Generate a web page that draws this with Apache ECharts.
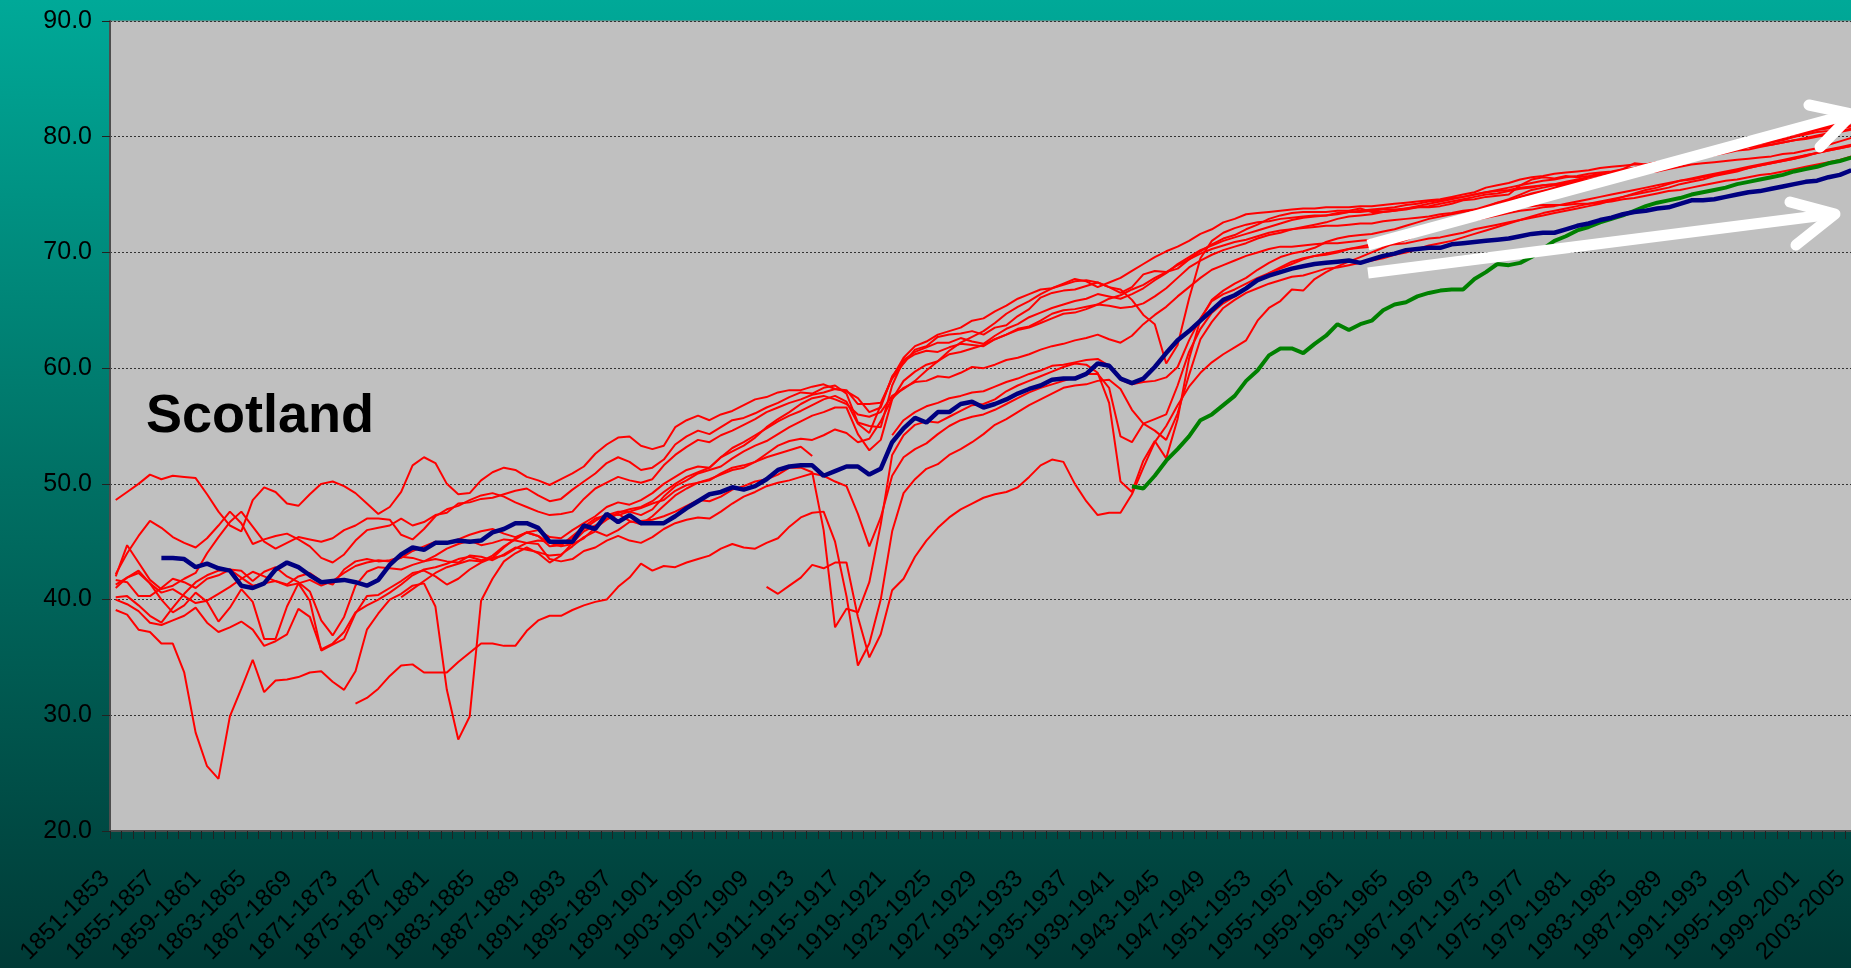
<!DOCTYPE html>
<html>
<head>
<meta charset="utf-8">
<title>Scotland life expectancy</title>
<script src="https://cdn.jsdelivr.net/npm/echarts@6/dist/echarts.min.js"></script>
<style>
  html, body { margin: 0; padding: 0; }
  #chart { width: 1851px; height: 968px; }
</style>
</head>
<body>
<div id="chart"></div>
<script>
  // three-year periods 1851-1853 ... 2003-2005
  const firstYear = 1851
  const periodCount = 153
  const categories = []
  for (let y = firstYear; y < firstYear + periodCount; y++) {
    categories.push(y + '-' + (y + 2))
  }

  const yTicks = [20, 30, 40, 50, 60, 70, 80, 90]

  // Scotland (blue), from 1855-1857
  const scotlandStart = 4
  const scotland = [
    43.6, 43.6, 43.5, 42.8, 43.1, 42.7,
    42.5, 41.2, 41.0, 41.4, 42.6, 43.2, 42.8, 42.1, 41.5, 41.6,
    41.7, 41.5, 41.2, 41.7, 43.0, 43.9, 44.5, 44.3, 44.9, 44.9,
    45.1, 45.0, 45.1, 45.8, 46.1, 46.6, 46.6, 46.2, 45.0, 45.0,
    45.0, 46.4, 46.1, 47.4, 46.7, 47.3, 46.6, 46.6, 46.6, 47.2,
    47.9, 48.5, 49.1, 49.3, 49.7, 49.5, 49.8, 50.4, 51.2, 51.5,
    51.6, 51.6, 50.7, 51.1, 51.5, 51.5, 50.8, 51.3, 53.6, 54.8,
    55.7, 55.3, 56.2, 56.2, 56.9, 57.1, 56.6, 56.9, 57.3, 57.8,
    58.2, 58.5, 59.0, 59.1, 59.1, 59.5, 60.4, 60.2, 59.1, 58.7,
    59.1, 60.1, 61.3, 62.4, 63.2, 64.1, 65.0, 65.9, 66.3, 66.9,
    67.6, 68.0, 68.3, 68.6, 68.8, 69.0, 69.1, 69.2, 69.3, 69.1,
    69.4, 69.7, 69.9, 70.2, 70.3, 70.4, 70.4, 70.7, 70.8, 70.9,
    71.0, 71.1, 71.2, 71.4, 71.6, 71.7, 71.7, 72.0, 72.3, 72.5,
    72.8, 73.0, 73.3, 73.5, 73.6, 73.8, 73.9, 74.2, 74.5, 74.5,
    74.6, 74.8, 75.0, 75.2, 75.3, 75.5, 75.7, 75.9, 76.1, 76.2, 76.5, 76.7, 77.1
  ]

  // highlighted comparator (green), from 1940-1942
  const greenStart = 89
  const greenLine = [
    49.8,
    49.6, 50.7, 52.0, 53.0, 54.1, 55.5, 56.0, 56.8, 57.6, 58.9,
    59.8, 61.1, 61.7, 61.7, 61.3, 62.1, 62.8, 63.8, 63.3, 63.8,
    64.1, 65.0, 65.5, 65.7, 66.2, 66.5, 66.7, 66.8, 66.8, 67.7,
    68.3, 69.0, 68.9, 69.1, 69.6, 70.3, 71.0, 71.4, 71.9, 72.2,
    72.6, 72.9, 73.2, 73.6, 74.0, 74.3, 74.5, 74.7, 75.0, 75.2,
    75.4, 75.6, 75.9, 76.1, 76.3, 76.5, 76.7, 77.0, 77.2, 77.4, 77.7, 77.9, 78.2
  ]

  // other countries (red)
  const redA = [
    48.6, 49.3, 50.0, 50.8, 50.4, 50.7, 50.6, 50.5, 49.1, 47.6,
    46.4, 45.9, 48.6, 49.7, 49.3, 48.3, 48.1, 49.1, 50.0, 50.2,
    49.8, 49.2, 48.3, 47.4, 48.0, 49.3, 51.6, 52.3, 51.8, 50.0,
    49.1, 49.2, 50.3, 51.0, 51.4, 51.2, 50.6, 50.3, 49.9, 50.4,
    50.9, 51.5, 52.6, 53.4, 54.0, 54.1, 53.3, 53.0, 53.3, 54.9,
    55.5, 55.9, 55.5, 56.0, 56.3, 56.8, 57.3, 57.5, 57.9, 58.1,
    58.1, 58.4, 58.6, 58.2, 58.1, 56.9, 56.9, 57.0, 59.1, 60.4,
    61.6, 61.9, 62.7, 62.9, 63.0, 63.2, 62.9, 63.5, 63.7, 64.5,
    65.1, 66.1, 66.5, 66.7, 66.8, 67.1, 67.4, 67.0, 66.5, 67.0,
    68.1, 68.4, 68.3, 68.6, 69.4, 70.1, 70.7, 71.2, 71.5, 72.0,
    72.4, 72.9, 73.2, 73.4, 73.5, 73.5, 73.5, 73.6, 73.6, 73.8,
    73.5, 73.5, 73.6, 73.7, 73.9, 73.9, 74.0, 74.2, 74.5, 74.6,
    74.8, 74.9, 75.0, 75.8, 76.3, 76.5, 76.4, 76.6, 76.5, 76.6,
    76.8, 76.9, 77.2, 77.7, 77.6, 77.5, 77.7, 77.9, 78.2, 78.4,
    78.5, 78.7, 78.9, 79.1, 79.2, 79.5, 79.7, 80.0, 80.3, 80.6, 80.8, 81.0, 81.3
  ]
  const redB = [
    42.2, 44.0, 45.5, 46.8, 46.2, 45.4, 44.9, 44.5, 45.3, 46.4,
    47.6, 46.6, 44.8, 45.2, 45.5, 45.7, 45.2, 44.6, 43.6, 43.2,
    43.9, 45.1, 46.0, 46.2, 46.4, 47.0, 46.4, 46.7, 47.3, 47.5,
    48.3, 48.4, 48.7, 48.8, 49.1, 49.4, 49.6, 49.0, 48.5, 48.7,
    49.5, 50.2, 50.9, 51.8, 52.3, 51.9, 51.2, 51.4, 52.1, 53.4,
    54.1, 54.6, 54.3, 54.9, 55.5, 55.7, 56.1, 56.6, 57.0, 57.5,
    57.9, 57.8, 58.3, 58.5, 57.8, 55.3, 55.0, 54.9, 58.5, 60.7,
    61.4, 61.8, 62.2, 62.2, 62.6, 62.3, 62.1, 62.8, 63.4, 63.8,
    64.4, 64.8, 65.2, 65.5, 65.8, 66.0, 66.4, 66.2, 66.0, 66.4,
    66.9, 67.6, 68.2, 69.0, 69.6, 70.2, 70.6, 71.0, 71.3, 71.6,
    71.9, 72.2, 72.5, 72.8, 73.0, 73.1, 73.2, 73.3, 73.5, 73.6,
    73.7, 73.8, 73.9, 74.1, 74.2, 74.4, 74.5, 74.7, 74.8, 75.0,
    75.2, 75.3, 75.4, 75.6, 75.7, 75.8, 75.9, 76.1, 76.3, 76.5,
    76.7, 76.9, 77.0, 77.2, 77.3, 77.5, 77.7, 77.9, 78.1, 78.3,
    78.5, 78.7, 78.9, 79.1, 79.2, 79.3, 79.5, 79.7, 79.9, 80.1, 80.3, 80.5, 80.7
  ]
  const redC = [
    42.0, 44.7, 43.2, 41.7, 40.9, 41.2, 41.8, 42.3, 44.0, 45.4,
    46.7, 47.6, 46.3, 45.0, 44.4, 44.9, 45.4, 45.2, 45.0, 45.3,
    46.0, 46.4, 47.0, 47.0, 46.9, 45.6, 45.2, 46.1, 47.2, 47.8,
    48.1, 48.6, 49.0, 49.2, 48.9, 48.4, 48.0, 47.6, 47.3, 47.4,
    47.6, 48.7, 49.6, 50.1, 50.6, 50.3, 50.1, 50.4, 51.6, 52.5,
    53.2, 53.8, 53.6, 54.2, 54.6, 55.1, 55.6, 56.2, 56.6, 57.0,
    57.3, 57.7, 57.9, 58.2, 58.0, 57.4, 56.2, 56.6, 59.3, 60.6,
    61.2, 61.5, 61.4, 61.8, 62.1, 62.0, 61.9, 62.5, 62.9, 63.4,
    63.6, 64.1, 64.7, 65.0, 65.1, 65.3, 65.5, 65.4, 65.2, 65.3,
    65.6, 66.2, 66.9, 67.8, 68.7, 69.3, 69.8, 70.2, 70.5, 70.8,
    71.2, 71.5, 71.7, 72.0, 72.1, 72.2, 72.3, 72.3, 72.4, 72.5,
    72.5, 72.7, 72.8, 72.9, 73.0, 73.1, 73.3, 73.4, 73.6, 73.7,
    73.8, 73.8, 73.9, 74.0, 74.0, 74.1, 74.1, 74.1, 74.2, 74.2,
    74.3, 74.4, 74.6, 74.7, 74.9, 75.1, 75.3, 75.4, 75.6, 75.8,
    76.0, 76.2, 76.3, 76.5, 76.7, 76.8, 77.0, 77.2, 77.4, 77.6, 77.8, 78.0, 78.3
  ]
  const redD = [
    41.7, 41.5, 40.3, 40.3, 41.0, 41.8, 41.5, 41.0, 41.8, 42.1,
    42.6, 41.9, 41.2, 41.4, 41.6, 41.2, 41.4, 41.7, 41.2, 41.6,
    42.3, 42.9, 43.2, 43.4, 43.3, 43.6, 44.2, 44.6, 45.0, 44.9,
    45.2, 45.6, 45.9, 46.1, 45.7, 45.4, 45.8, 45.5, 44.9, 44.6,
    44.8, 45.3, 46.2, 46.9, 47.4, 46.8, 46.5, 47.2, 48.1, 49.0,
    49.6, 50.1, 50.4, 50.8, 51.2, 51.4, 51.9, 52.6, 53.3, 53.7,
    53.9, 53.8, 54.2, 54.7, 54.4, 53.6, 53.9, 55.4, 57.4, 58.3,
    58.8, 58.9, 59.3, 59.2, 59.6, 60.1, 60.0, 60.3, 60.7, 60.9,
    61.2, 61.6, 61.9, 62.1, 62.4, 62.6, 62.9, 62.5, 62.2, 62.8,
    63.8, 64.6, 65.3, 66.2, 67.0, 67.8, 68.5, 68.9, 69.3, 69.7,
    70.0, 70.3, 70.5, 70.5, 70.6, 70.7, 70.8, 70.8, 70.9, 71.0,
    71.1, 71.3, 71.4, 71.6, 71.8, 72.0, 72.2, 72.4, 72.6, 72.8,
    73.0, 73.2, 73.4, 73.6, 73.7, 73.9, 74.0, 74.2, 74.4, 74.6,
    74.8, 75.0, 75.2, 75.4, 75.6, 75.8, 76.0, 76.2, 76.3, 76.5,
    76.7, 76.9, 77.1, 77.3, 77.5, 77.7, 77.9, 78.1, 78.4, 78.6, 78.8, 79.0, 79.2
  ]
  const redE = [
    40.0, 39.6, 39.0, 38.0, 37.8, 38.2, 38.6, 39.3, 38.0, 37.2,
    37.6, 38.1, 37.4, 36.0, 36.4, 37.0, 39.2, 38.5, 35.7, 36.2,
    37.2, 38.9, 39.5, 40.0, 40.6, 41.3, 42.1, 42.6, 42.8, 43.1,
    43.5, 43.7, 43.4, 43.6, 44.5, 45.3, 45.8, 46.0, 45.4, 45.3,
    46.0, 46.6, 47.2, 48.0, 48.4, 48.2, 48.6, 49.2, 50.0, 50.6,
    51.2, 51.5, 51.4, 52.3, 53.1, 53.6, 54.2, 54.8, 55.4, 55.9,
    56.3, 56.8, 57.3, 57.6, 57.1, 55.2, 54.4, 56.8, 59.2, 60.9,
    61.9, 62.3, 62.9, 63.2, 63.5, 64.1, 64.3, 64.9, 65.4, 66.0,
    66.4, 66.8, 66.9, 67.2, 67.5, 67.6, 67.4, 67.0, 66.8, 65.9,
    64.6, 63.8, 60.4, 62.0, 66.0, 69.5, 71.0, 71.7, 72.1, 72.4,
    72.6, 72.7, 72.9, 73.0, 73.1, 73.2, 73.2, 73.4, 73.5, 73.5,
    73.6, 73.7, 73.7, 73.8, 73.9, 74.0, 74.2, 74.4, 74.6, 74.8,
    75.0, 75.1, 75.3, 75.5, 75.6, 75.8, 75.9, 76.0, 76.1, 76.2,
    76.4, 76.6, 76.7, 76.8, 76.9, 77.0, 77.2, 77.4, 77.6, 77.7,
    77.8, 77.9, 78.0, 78.1, 78.2, 78.3, 78.5, 78.6, 78.8, 79.0, 79.3, 79.6, 79.9
  ]
  const redF = [
    40.2, 40.3, 39.5, 38.6, 38.0, 39.3, 40.5, 41.5, 42.1, 42.5,
    42.6, 42.5, 41.6, 42.4, 42.8, 42.0, 41.5, 40.7, 38.2, 36.9,
    38.5, 41.2, 42.4, 42.8, 42.7, 42.6, 43.0, 43.3, 43.5, 43.3,
    43.2, 43.8, 43.7, 43.4, 43.9, 44.5, 44.3, 44.1, 43.8, 43.9,
    44.6, 45.4, 45.9, 45.5, 46.0, 46.7, 46.8, 46.9, 47.2, 47.6,
    48.1, 48.6, 48.5, 48.9, 49.5, 49.8, 50.2, 50.4, 50.8, 51.4,
    51.4, 51.0, 46.0, 37.6, 39.2, 38.9, 41.5, 46.5, 52.5, 54.2,
    55.1, 55.4, 55.3, 55.8, 56.3, 56.8, 56.9, 57.3, 58.0, 58.5,
    58.9, 59.3, 59.7, 60.1, 60.4, 60.3, 59.6, 57.0, 50.2, 49.3,
    52.0, 53.7, 52.2, 55.6, 60.8, 64.2, 65.9, 66.7, 67.3, 67.8,
    68.5, 69.1, 69.6, 69.9, 70.1, 70.4, 70.9, 71.2, 71.4, 71.5,
    71.6, 71.8, 72.0, 72.3, 72.6, 72.9, 73.1, 73.3, 73.5, 73.7,
    74.0, 74.3, 74.5, 74.8, 75.0, 75.3, 75.6, 75.9, 76.2, 76.5,
    76.7, 76.9, 77.1, 77.3, 77.6, 77.8, 78.0, 78.2, 78.4, 78.6,
    78.8, 79.0, 79.2, 79.4, 79.6, 79.8, 80.0, 80.2, 80.4, 80.6, 80.7, 80.8, 81.0
  ]
  // no data for 1913-1919 periods
  const redG = [
    41.0, 41.9, 42.5, 41.4, 40.6, 40.9, 40.3, 39.7, 39.9, 40.5,
    41.1, 41.8, 42.4, 42.0, 41.6, 41.3, 42.0, 42.3, 41.6, 41.3,
    42.6, 43.3, 43.5, 43.3, 43.4, 43.7, 43.6, 43.3, 43.8, 44.4,
    44.8, 45.1, 44.7, 44.9, 45.2, 45.1, 44.9, 45.1, 45.0, 44.7,
    45.4, 46.1, 46.8, 47.4, 47.3, 47.6, 47.9, 48.3, 48.6, 49.4,
    49.9, 50.1, 50.3, 50.9, 51.4, 51.6, 51.9, 52.3, 52.6, 52.9,
    53.2, 52.4, null, null, null, null, null, null, 54.2, 55.5,
    56.2, 56.7, 57.0, 57.4, 57.6, 57.9, 58.0, 58.4, 58.8, 59.1,
    59.5, 59.8, 60.2, 60.3, 60.5, 60.7, 60.8, 60.2, 59.0, 58.6,
    58.8, 58.9, 59.2, 60.1, 62.4, 64.3, 65.8, 66.4, 66.8, 67.3,
    67.8, 68.2, 68.6, 69.0, 69.4, 69.7, 69.9, 70.1, 70.3, 70.4,
    70.5, 70.6, 70.7, 70.8, 71.0, 71.2, 71.3, 71.5, 71.7, 72.0,
    72.2, 72.4, 72.6, 72.8, 73.0, 73.2, 73.4, 73.6, 73.8, 74.0,
    74.2, 74.5, 74.8, 75.1, 75.4, 75.6, 75.9, 76.2, 76.4, 76.6,
    76.8, 77.0, 77.2, 77.4, 77.6, 77.8, 78.0, 78.2, 78.4, 78.6, 78.8, 79.0, 79.2
  ]
  const redH = [
    39.1, 38.7, 37.4, 37.2, 36.2, 36.2, 33.7, 28.5, 25.6, 24.5,
    29.9, 32.3, 34.8, 32.0, 33.0, 33.1, 33.3, 33.7, 33.8, 32.9,
    32.2, 33.8, 37.4, 38.8, 40.0, 40.5, 41.2, 41.4, 39.4, 32.2,
    27.9, 29.9, 39.9, 41.8, 43.3, 44.0, 44.5, 44.0, 43.2, 43.8,
    44.9, 45.9, 46.4, 47.0, 47.5, 47.8, 48.0, 48.5, 49.3, 50.0,
    50.6, 51.0, 51.4, 52.3, 52.8, 53.3, 54.0, 54.9, 55.6, 56.2,
    56.9, 57.4, 57.6, 57.3, 56.9, 56.0, 55.8, 56.2, 57.6, 58.2,
    58.9, 59.8, 60.6, 61.5, 62.2, 62.7, 63.2, 63.9, 64.7, 65.3,
    65.8, 66.4, 66.9, 67.3, 67.7, 67.5, 67.0, 67.4, 67.8, 68.4,
    69.0, 69.6, 70.1, 70.5, 71.0, 71.6, 72.0, 72.6, 72.9, 73.3,
    73.4, 73.5, 73.6, 73.7, 73.8, 73.8, 73.9, 73.9, 73.9, 74.0,
    74.0, 74.1, 74.2, 74.3, 74.4, 74.5, 74.6, 74.8, 75.0, 75.2,
    75.6, 75.8, 76.0, 76.3, 76.5, 76.6, 76.8, 76.9, 77.0, 77.1,
    77.3, 77.4, 77.5, 77.6, 77.6, 77.8, 77.9, 78.1, 78.4, 78.6,
    78.8, 79.0, 79.3, 79.5, 79.7, 79.9, 80.2, 80.4, 80.6, 80.8, 81.0, 81.1, 81.3
  ]
  const redI = [
    41.3, 41.9, 42.3, 41.4, 40.0, 38.9, 39.5, 40.6, 39.8, 38.1,
    39.3, 40.9, 39.8, 36.6, 36.6, 39.4, 41.4, 39.9, 35.6, 36.1,
    36.6, 38.8, 40.3, 40.4, 41.0, 41.6, 42.3, 42.5, 42.0, 41.3,
    41.8, 42.6, 43.2, 43.6, 43.8, 44.4, 44.9, 44.8, 43.5, 43.3,
    43.5, 44.2, 44.5, 45.1, 45.5, 45.1, 44.9, 45.4, 46.1, 46.6,
    46.9, 47.1, 47.0, 47.6, 48.3, 48.9, 49.3, 49.8, 50.1, 50.3,
    50.6, 50.9, 50.7, 50.2, 49.8, 47.4, 44.6, 47.1, 50.7, 52.3,
    53.0, 53.5, 54.3, 55.0, 55.5, 55.8, 56.0, 56.4, 56.9, 57.4,
    57.9, 58.3, 58.6, 58.9, 59.2, 59.5, 59.5, 58.3, 54.1, 53.6,
    55.2, 54.6, 53.8, 56.1, 59.4, 62.5, 64.0, 65.2, 65.9, 66.5,
    66.9, 67.3, 67.6, 67.9, 68.0, 68.3, 68.6, 68.7, 68.9, 69.1,
    69.3, 69.5, 69.8, 70.0, 70.3, 70.6, 70.8, 71.0, 71.3, 71.6,
    71.9, 72.2, 72.5, 72.8, 73.1, 73.4, 73.6, 73.8, 74.0, 74.2,
    74.4, 74.6, 74.8, 75.0, 75.2, 75.4, 75.6, 75.9, 76.1, 76.3,
    76.6, 76.8, 77.0, 77.3, 77.5, 77.7, 77.9, 78.1, 78.3, 78.6, 78.9, 79.1, 79.3
  ]
  // from 1872-1874
  const redJStart = 21
  const redJ = [
    31.0, 31.5, 32.3, 33.4, 34.3, 34.4, 33.7, 33.7, 33.7,
    34.6, 35.4, 36.2, 36.2, 36.0, 36.0, 37.3, 38.2, 38.6, 38.6,
    39.1, 39.5, 39.8, 40.0, 41.1, 41.9, 43.1, 42.5, 42.9, 42.8,
    43.2, 43.5, 43.8, 44.4, 44.8, 44.5, 44.4, 44.9, 45.3, 46.3,
    47.1, 47.5, 47.6, 45.0, 40.3, 34.3, 36.2, 40.0, 45.9, 49.2,
    50.4, 51.3, 51.7, 52.5, 53.0, 53.6, 54.3, 55.1, 55.6, 56.2,
    56.8, 57.3, 57.8, 58.3, 58.5, 58.6, 58.9, 59.0, 58.2, 56.4,
    55.2, 55.6, 56.0, 58.5, 61.4, 63.4, 64.8, 65.6, 66.2, 66.9,
    67.6, 68.2, 68.7, 69.2, 69.5, 69.7, 69.8, 70.0, 70.3, 70.5,
    70.7, 70.9, 71.0, 71.3, 71.6, 71.9, 72.3, 72.7, 73.1, 73.5,
    73.8, 74.1, 74.4, 74.8, 75.1, 75.3, 75.5, 75.8, 76.0, 76.2,
    76.4, 76.6, 76.8, 77.0, 77.2, 77.5, 77.7, 78.0, 78.2, 78.4,
    78.6, 78.8, 79.0, 79.2, 79.4, 79.6, 79.8, 80.0, 80.2, 80.4, 80.5, 80.7, 80.9
  ]
  // from 1876-1878
  const redKStart = 25
  const redK = [
    40.2, 40.9, 41.6, 42.3, 42.8,
    43.1, 43.4, 43.3, 43.8, 44.6, 45.2, 45.8, 45.5, 44.6, 44.7,
    45.5, 46.3, 47.0, 47.3, 47.6, 47.6, 47.3, 47.8, 48.9, 49.8,
    50.3, 50.9, 51.2, 51.5, 52.2, 52.8, 53.3, 53.7, 54.3, 54.9,
    55.4, 55.9, 56.2, 56.6, 56.6, 54.3, 52.9, 53.8, 57.3, 58.9,
    59.7, 60.3, 60.6, 61.2, 61.4, 61.7, 62.0, 62.5, 62.9, 63.3,
    63.5, 63.9, 64.3, 64.7, 64.8, 65.1, 65.5, 66.0, 66.3, 66.8,
    67.2, 67.8, 68.3, 68.9, 69.4, 69.9, 70.3, 70.6, 70.9, 71.1,
    71.4, 71.7, 71.9, 72.0, 72.2, 72.4, 72.6, 72.9, 73.1, 73.2,
    73.3, 73.5, 73.6, 73.8, 74.0, 74.2, 74.4, 74.6, 74.8, 75.0,
    75.2, 75.4, 75.6, 75.8, 76.0, 76.2, 76.3, 76.5, 76.6, 76.8,
    76.9, 77.0, 77.2, 77.3, 77.5, 77.7, 77.9, 78.2, 78.5, 78.7,
    78.9, 79.1, 79.3, 79.5, 79.7, 79.9, 80.1, 80.3, 80.5, 80.7, 80.9, 81.1, 81.4
  ]
  // from 1908-1910
  const redLStart = 57
  const redL = [
    41.1, 40.5, 41.2,
    41.9, 43.0, 42.7, 43.2, 43.2, 38.5, 35.0, 37.0, 40.8, 41.8,
    43.7, 45.1, 46.2, 47.1, 47.8, 48.3, 48.8, 49.1, 49.3, 49.7,
    50.6, 51.6, 52.1, 51.9, 50.0, 48.5, 47.3, 47.5, 47.5, 49.1,
    51.4, 53.6, 55.0, 56.8, 58.4, 59.6, 60.5, 61.2, 61.8, 62.4,
    64.1, 65.2, 65.8, 66.8, 66.7, 67.7, 68.3, 68.8, 69.2, 69.6,
    70.0, 70.4, 70.8, 71.1, 71.5, 71.9, 72.3, 72.7, 73.1, 73.5,
    73.9, 74.3, 74.6, 75.0, 75.4, 75.6, 75.8, 75.9, 76.1, 76.3,
    76.5, 76.6, 76.8, 76.9, 77.1, 77.3, 77.6, 77.8, 78.0, 78.2,
    78.4, 78.6, 78.8, 78.9, 79.1, 79.3, 79.5, 79.7, 79.8, 80.0, 80.2, 80.4, 80.6
  ]

  function pad (start, values) {
    return new Array(start).fill(null).concat(values)
  }

  const redSeries = [
    ['A', redA], ['B', redB], ['C', redC], ['D', redD], ['E', redE], ['F', redF],
    ['G', redG], ['H', redH], ['I', redI],
    ['J', pad(redJStart, redJ)], ['K', pad(redKStart, redK)], ['L', pad(redLStart, redL)]
  ]

  const font = '"Liberation Sans", Arial, sans-serif'

  function line (name, data, color, width, z) {
    return {
      name: name,
      type: 'line',
      data: data,
      symbol: 'none',
      showSymbol: false,
      connectNulls: false,
      silent: true,
      z: z,
      lineStyle: {color: color, width: width},
      itemStyle: {color: color},
      emphasis: {disabled: true}
    }
  }

  const series = redSeries.map(r => line('country ' + r[0], r[1], '#FF0000', 2, 2))
  series.push(line('green', pad(greenStart, greenLine), '#008000', 4, 3))
  series.push(line('Scotland', pad(scotlandStart, scotland), '#000080', 4.5, 4))

  const chart = echarts.init(document.getElementById('chart'), null, {renderer: 'canvas'})
  chart.setOption({
    animation: false,
    backgroundColor: new echarts.graphic.LinearGradient(0, 0, 0, 1, [
      {offset: 0, color: '#00A998'},
      {offset: 0.5, color: '#007064'},
      {offset: 1, color: '#003A36'}
    ]),
    grid: {
      left: 110, top: 21, width: 1747, height: 810,
      containLabel: false,
      outerBoundsMode: 'none',
      show: true,
      backgroundColor: '#C0C0C0',
      borderColor: '#8a8a8a',
      borderWidth: 1
    },
    tooltip: {show: false},
    legend: {show: false},
    xAxis: {
      type: 'category',
      data: categories,
      boundaryGap: true,
      axisLine: {show: true, lineStyle: {color: '#4d4d4d', width: 2}},
      axisTick: {show: true, interval: 0, length: 8, lineStyle: {color: '#222', width: 1}},
      axisLabel: {
        interval: 3, rotate: 45, margin: 34,
        padding: [0, 14, 0, 0],
        fontSize: 24, color: '#000', fontFamily: font
      },
      splitLine: {show: false}
    },
    yAxis: {
      type: 'value',
      min: yTicks[0],
      max: yTicks[yTicks.length - 1],
      interval: 10,
      axisLine: {show: true, lineStyle: {color: '#4d4d4d', width: 2}},
      axisTick: {show: true, length: 8, lineStyle: {color: '#222', width: 1}},
      axisLabel: {
        formatter: v => v.toFixed(1),
        margin: 18, fontSize: 25, color: '#000', fontFamily: font
      },
      splitLine: {show: true, lineStyle: {color: '#333', width: 1, type: [2, 2]}}
    },
    series: series,
    graphic: [
      {
        type: 'text', x: 146, y: 417, z: 10,
        style: {
          text: 'Scotland', fill: '#000',
          font: 'bold 54px ' + font,
          align: 'left', verticalAlign: 'middle',
          textAlign: 'left', textVerticalAlign: 'middle'
        }
      },
      // white trend arrows
      {type: 'polyline', z: 10, shape: {points: [[1368, 245], [1850, 114]]},
       style: {stroke: '#fff', lineWidth: 11, lineCap: 'butt', fill: null}},
      {type: 'polyline', z: 10, shape: {points: [[1809, 105], [1852, 114], [1820, 147]]},
       style: {stroke: '#fff', lineWidth: 11, lineCap: 'round', lineJoin: 'round', fill: null}},
      {type: 'polyline', z: 10, shape: {points: [[1368, 273], [1833, 214]]},
       style: {stroke: '#fff', lineWidth: 11, lineCap: 'butt', fill: null}},
      {type: 'polyline', z: 10, shape: {points: [[1790, 202], [1835, 214], [1796, 245]]},
       style: {stroke: '#fff', lineWidth: 11, lineCap: 'round', lineJoin: 'round', fill: null}}
    ]
  })
</script>
</body>
</html>
